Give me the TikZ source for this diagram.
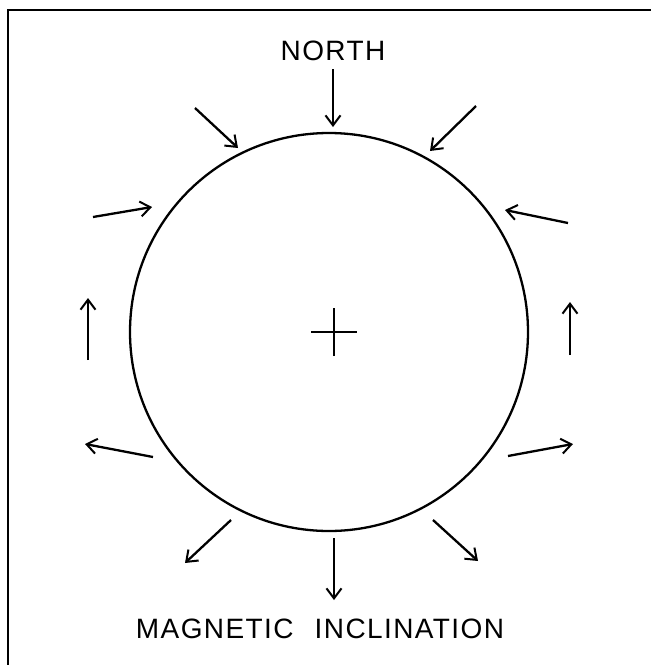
\documentclass[tikz,border=0pt]{standalone}
\usepackage{fontspec}
\setmainfont{Liberation Sans}
\usetikzlibrary{arrows.meta,positioning}
\tikzset{
  rim/.style={line width=2.3pt, draw=black},
  frame/.style={line width=2pt, draw=black},
  flux/.style={-{Straight Barb[length=10pt, width=15pt, line width=2pt]}, line width=2.3pt, draw=black},
  thinflux/.style={flux, line width=1.3pt},
  lettering/.style={font=\fontsize{28}{30}\selectfont\addfontfeature{LetterSpace=5}, inner sep=0pt}
}

\begin{document}
\begin{tikzpicture}[x=1pt, y=-1pt]
  \useasboundingbox (0,0) rectangle (651,665);

  % partial frame (top and left edges only)
  \draw[frame] (8,665) -- (8,10) -- (651,10);

  % the sphere and its centre mark
  \node[rim, circle, minimum size=398pt, inner sep=0pt] (earth) at (329,332) {};
  \coordinate (mid) at (334,332);
  \draw[line width=1.8pt] ([xshift=-23pt]mid) -- ([xshift=23pt]mid);
  \draw[line width=1.8pt] ([yshift=-24pt]mid) -- ([yshift=24pt]mid);

  % labels
  \node[lettering, anchor=base] (north) at (333,60) {NORTH};
  \node[lettering, anchor=base] (caption) at (320,638) {MAGNETIC\hspace{12pt} INCLINATION};

  % field arrows round the sphere
  \foreach \xa/\ya/\xb/\yb in {333/69/333/127, 195/108/238/148, 476/106/430/151,
      93/217/152/207, 568/223/505/210, 570/355/570/302,
      153/457/85/444, 508/456/573/444, 231/520/185/563,
      433/520/478/561, 334/538/334/600}
    \draw[flux] (\xa,\ya) -- (\xb,\yb);
  \draw[thinflux] (88,360) -- (88,298);
\end{tikzpicture}
\end{document}
